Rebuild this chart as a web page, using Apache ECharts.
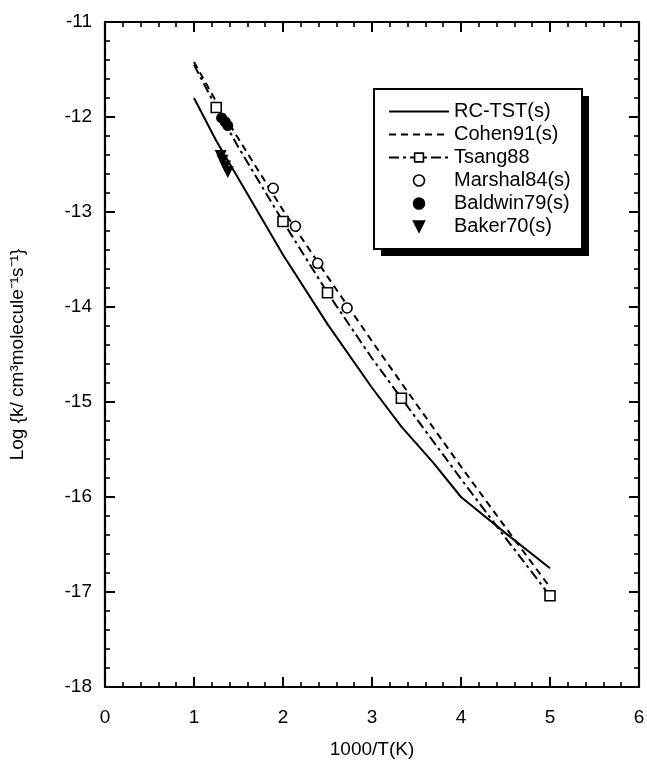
<!DOCTYPE html>
<html><head><meta charset="utf-8">
<script src="https://cdn.jsdelivr.net/npm/echarts@6/dist/echarts.min.js"></script>
<style>html,body{margin:0;padding:0;background:#fff}#c{width:647px;height:767px}</style>
</head><body><div id="c"></div>
<script>
// ---- data ----
const xTicks = [0, 1, 2, 3, 4, 5, 6];
const yTicks = [-18, -17, -16, -15, -14, -13, -12, -11];

const rcX = [1.0, 1.25, 1.5, 2.0, 2.5, 3.0, 3.33, 3.69, 4.0, 4.5, 5.0];
const rcY = [-11.80, -12.25, -12.65, -13.45, -14.18, -14.85, -15.26, -15.64, -16.00, -16.38, -16.75];

const cohenX = [1.0, 1.25, 1.5, 2.0, 2.5, 3.0, 3.33, 4.0, 4.5, 5.0];
const cohenY = [-11.42, -11.84, -12.23, -12.98, -13.68, -14.36, -14.80, -15.68, -16.32, -16.95];

const tsangX = [1.0, 1.25, 1.5, 2.0, 2.5, 3.0, 3.33, 4.0, 4.5, 5.0];
const tsangY = [-11.45, -11.90, -12.32, -13.10, -13.85, -14.54, -14.96, -15.81, -16.43, -17.04];
const tsangMarkedX = [1.25, 2.0, 2.5, 3.33, 5.0];

const marshalX = [1.89, 2.14, 2.39, 2.72];
const marshalY = [-12.75, -13.15, -13.54, -14.01];

const baldwinX = [1.31, 1.35, 1.38];
const baldwinY = [-12.01, -12.05, -12.09];

const bakerX = [1.30, 1.32, 1.35, 1.38];
const bakerY = [-12.41, -12.46, -12.52, -12.58];

const names = ['RC-TST(s)', 'Cohen91(s)', 'Tsang88', 'Marshal84(s)', 'Baldwin79(s)', 'Baker70(s)'];

// ---- build ----
const FONT = '"Liberation Sans", Arial, Helvetica, sans-serif';
const pairs = (xs, ys) => xs.map((x, i) => [x, ys[i]]);

const axisBase = {
  type: 'value',
  axisLine: { show: true, onZero: false, lineStyle: { color: '#000', width: 2.2 } },
  axisTick: { show: true, inside: true, length: 10, lineStyle: { color: '#000', width: 2 } },
  minorTick: { show: true, splitNumber: 5, length: 5, lineStyle: { color: '#000', width: 1.6 } },
  splitLine: { show: false },
  minorSplitLine: { show: false }
};

const tsangData = tsangX.map((x, i) => {
  const d = { value: [x, tsangY[i]] };
  if (tsangMarkedX.indexOf(x) < 0) d.symbol = 'none';
  return d;
});

// legend frame geometry
const LG = { left: 374, top: 89, w: 208, h: 160, shadow: 7 };

const option = {
  backgroundColor: '#fff',
  animation: false,
  textStyle: { fontFamily: FONT, color: '#000' },
  grid: { left: 105, right: 8, top: 22, bottom: 80, containLabel: false, outerBoundsMode: 'none' },
  graphic: [
    { type: 'rect', z: 5, silent: true,
      shape: { x: LG.left + LG.shadow, y: LG.top + LG.shadow, width: LG.w, height: LG.h },
      style: { fill: '#000' } },
    { type: 'rect', z: 6, silent: true,
      shape: { x: LG.left, y: LG.top, width: LG.w, height: LG.h },
      style: { fill: '#fff', stroke: '#000', lineWidth: 2 } }
  ],
  xAxis: [
    Object.assign({}, axisBase, {
      position: 'bottom', min: xTicks[0], max: xTicks[xTicks.length - 1], interval: 1,
      axisLabel: { show: true, fontSize: 19, color: '#000', margin: 21, fontFamily: FONT },
      name: '1000/T(K)', nameLocation: 'middle', nameGap: 53,
      nameTextStyle: { fontSize: 19, color: '#000', fontFamily: FONT }
    }),
    Object.assign({}, axisBase, {
      position: 'top', min: xTicks[0], max: xTicks[xTicks.length - 1], interval: 1,
      axisLabel: { show: false }
    })
  ],
  yAxis: [
    Object.assign({}, axisBase, {
      position: 'left', min: yTicks[0], max: yTicks[yTicks.length - 1], interval: 1,
      axisLabel: { show: true, fontSize: 19, color: '#000', margin: 13, fontFamily: FONT },
      name: 'Log {k/ cm³molecule⁻¹s⁻¹}', nameLocation: 'middle', nameGap: 78, nameRotate: 90,
      nameTextStyle: { fontSize: 19, color: '#000', fontFamily: FONT }
    }),
    Object.assign({}, axisBase, {
      position: 'right', min: yTicks[0], max: yTicks[yTicks.length - 1], interval: 1,
      axisLabel: { show: false }
    })
  ],
  legend: {
    orient: 'vertical', left: LG.left, top: LG.top, z: 10,
    itemWidth: 60, itemHeight: 11, itemGap: 0,
    padding: [11, 12, 11, 14],
    itemStyle: { borderWidth: 1.6 },
    textStyle: { fontSize: 20, color: '#000', fontFamily: FONT, lineHeight: 23 },
    data: [
      { name: names[0], itemStyle: { opacity: 0 } },
      { name: names[1], itemStyle: { opacity: 0 } },
      { name: names[2] },
      { name: names[3] },
      { name: names[4] },
      { name: names[5], icon: 'path://M0,0L12,0L6,12Z' }
    ]
  },
  series: [
    {
      name: names[0], type: 'line', data: pairs(rcX, rcY), symbol: 'none', smooth: false,
      lineStyle: { color: '#000', width: 2, type: 'solid' }, itemStyle: { color: '#000' }, z: 2
    },
    {
      name: names[1], type: 'line', data: pairs(cohenX, cohenY), symbol: 'none', smooth: false,
      lineStyle: { color: '#000', width: 2, type: [7, 5] }, itemStyle: { color: '#000' }, z: 2
    },
    {
      name: names[2], type: 'line', data: tsangData, symbol: 'rect', symbolSize: 10,
      showSymbol: true, showAllSymbol: true,
      lineStyle: { color: '#000', width: 2, type: [10, 4, 3, 4] },
      itemStyle: { color: '#fff', borderColor: '#000', borderWidth: 1.6 }, z: 3
    },
    {
      name: names[3], type: 'scatter', data: pairs(marshalX, marshalY), symbol: 'circle', symbolSize: 10,
      itemStyle: { color: '#fff', borderColor: '#000', borderWidth: 1.6, opacity: 1 }, z: 4
    },
    {
      name: names[4], type: 'scatter', data: pairs(baldwinX, baldwinY), symbol: 'circle', symbolSize: 11,
      itemStyle: { color: '#000', borderColor: '#000', borderWidth: 0, opacity: 1 }, z: 4
    },
    {
      name: names[5], type: 'scatter', data: pairs(bakerX, bakerY), symbol: 'triangle', symbolSize: 12,
      symbolRotate: 180,
      itemStyle: { color: '#000', borderColor: '#000', borderWidth: 0, opacity: 1 }, z: 4
    }
  ]
};

const chart = echarts.init(document.getElementById('c'), null, { renderer: 'canvas' });
chart.setOption(option);
</script>
</body></html>
